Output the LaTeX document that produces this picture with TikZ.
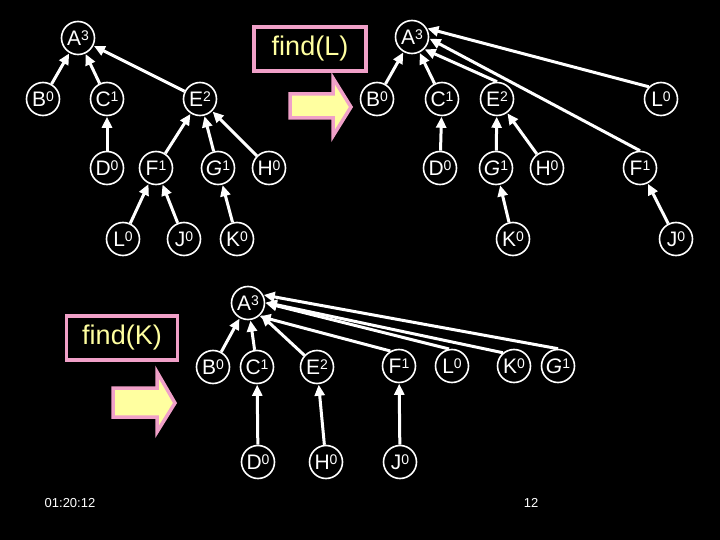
\documentclass[tikz,border=0pt]{standalone}
\usepackage{fontspec}
\setmainfont{Liberation Sans}
\usetikzlibrary{arrows.meta}
\definecolor{pinkb}{RGB}{240,160,200}
\definecolor{yel}{RGB}{255,255,160}
\newcommand{\nd}[2]{#1\raisebox{0.42ex}{\fontsize{14}{14}\selectfont #2}}
\begin{document}
\begin{tikzpicture}[x=1pt,y=-1pt,
  tn/.style={circle,draw=white,line width=1.6pt,minimum size=33pt,inner sep=0pt,
    text=white,font=\fontsize{21}{21}\selectfont},
  ed/.style={draw=white,line width=3pt,-{Triangle[length=11pt,width=10pt]},shorten >=0.5pt},
  findbox/.style={draw=pinkb,line width=3.5pt,fill=black,text=yel,
    font=\fontsize{27}{27}\selectfont,inner sep=0pt},
  blockarrow/.style={draw=pinkb,line width=3.5pt,fill=yel,line join=miter},
  small/.style={text=white,font=\fontsize{13}{13}\selectfont,inner sep=0pt}]
\fill[black] (0,0) rectangle (720,540);
\useasboundingbox (0,0) rectangle (720,540);

% ---- tree 1 ----
\node[tn] (a1) at (78,38) {\nd{A}{3}};
\node[tn] (b1) at (43,99) {\nd{B}{0}};
\node[tn] (c1) at (107,99) {\nd{C}{1}};
\node[tn] (e1) at (200,99) {\nd{E}{2}};
\node[tn] (d1) at (107,168) {\nd{D}{0}};
\node[tn] (f1) at (156,168) {\nd{F}{1}};
\node[tn] (g1) at (218,168) {\nd{\textit{G}}{1}};
\node[tn] (h1) at (269,168) {\nd{H}{0}};
\node[tn] (l1) at (123,239) {\nd{L}{0}};
\node[tn] (j1) at (184,239) {\nd{J}{0}};
\node[tn] (k1) at (237,239) {\nd{K}{0}};
\draw[ed] (b1) -- (a1);
\draw[ed] (c1) -- (a1);
\draw[ed] (e1) -- (a1);
\draw[ed] (d1) -- (c1);
\draw[ed] (f1) -- (e1);
\draw[ed] (g1) -- (e1);
\draw[ed] (h1) -- (e1);
\draw[ed] (l1) -- (f1);
\draw[ed] (j1) -- (f1);
\draw[ed] (k1) -- (g1);

% ---- find(L) ----
\node[findbox,minimum width=112pt,minimum height=44pt] (fl) at (310,49) {find(L)};
\draw[blockarrow] (290,94) -- (333,94) -- (333,78) -- (351,107) -- (333,136) -- (333,118) -- (290,118) -- cycle;

% ---- tree 2 ----
\node[tn] (a2) at (412,37) {\nd{A}{3}};
\node[tn] (b2) at (377,99) {\nd{B}{0}};
\node[tn] (c2) at (442,99) {\nd{C}{1}};
\node[tn] (e2) at (497,99) {\nd{E}{2}};
\node[tn] (l2) at (661,99) {\nd{L}{0}};
\node[tn] (d2) at (440,168) {\nd{D}{0}};
\node[tn] (g2) at (496,168) {\nd{\textit{G}}{1}};
\node[tn] (h2) at (547,168) {\nd{H}{0}};
\node[tn] (f2) at (640,168) {\nd{F}{1}};
\node[tn] (k2) at (513,239) {\nd{K}{0}};
\node[tn] (j2) at (676,239) {\nd{J}{0}};
\draw[ed] (b2) -- (a2);
\draw[ed] (c2) -- (a2);
\draw[ed] (e2.north) -- (a2.-45);
\draw[ed] (l2.135) -- (a2.30);
\draw[ed] (f2.north) -- (a2.-5);
\draw[ed] (d2) -- (c2);
\draw[ed] (g2) -- (e2);
\draw[ed] (h2) -- (e2);
\draw[ed] (k2) -- (g2);
\draw[ed] (j2) -- (f2);

% ---- find(K) ----
\node[findbox,minimum width=111pt,minimum height=44pt] (fk) at (122,338) {find(K)};
\draw[blockarrow] (113,388) -- (157,388) -- (157,372) -- (175,403) -- (157,432) -- (157,417) -- (113,417) -- cycle;

% ---- tree 3 ----
\node[tn] (a3) at (248,303) {\nd{A}{3}};
\node[tn] (b3) at (213,367) {\nd{B}{0}};
\node[tn] (c3) at (257,367) {\nd{C}{1}};
\node[tn] (e3) at (317,367) {\nd{E}{2}};
\node[tn] (f3) at (399,366) {\nd{F}{1}};
\node[tn] (l3) at (452,366) {\nd{L}{0}};
\node[tn] (k3) at (514,366) {\nd{K}{0}};
\node[tn] (g3) at (558,366) {\nd{\textit{G}}{1}};
\node[tn] (d3) at (258,462) {\nd{D}{0}};
\node[tn] (h3) at (326,462) {\nd{H}{0}};
\node[tn] (j3) at (400,462) {\nd{J}{0}};
\draw[ed] (b3) -- (a3);
\draw[ed] (c3) -- (a3);
\draw[ed] (e3) -- (a3);
\draw[ed] (f3.120) -- (a3.-50);
\draw[ed] (l3.100) -- (a3.0);
\draw[ed] (k3.130) -- (a3.2);
\draw[ed] (g3.north) -- (a3.28);
\draw[ed] (d3) -- (c3);
\draw[ed] (h3) -- (e3);
\draw[ed] (j3) -- (f3);

% ---- footer ----
\node[small] (time) at (70,503) {01:20:12};
\node[small] (page) at (531,503) {12};
\end{tikzpicture}
\end{document}
